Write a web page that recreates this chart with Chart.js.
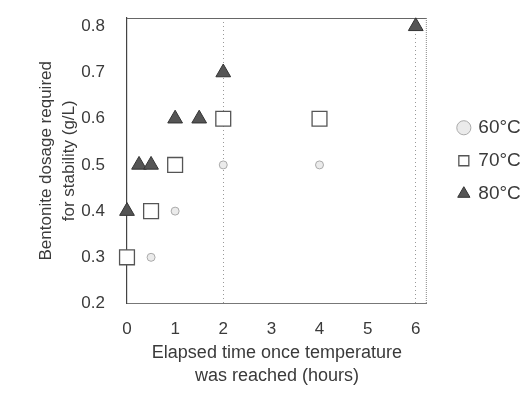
<!DOCTYPE html>
<html>
<head>
<meta charset="utf-8">
<script src="https://cdn.jsdelivr.net/npm/chart.js@4"></script>
<style>
  html, body { margin: 0; padding: 0; background: #fff; }
  #wrap { width: 521px; height: 394px; }
</style>
</head>
<body>
<div id="wrap"><canvas id="chart" width="521" height="394"></canvas></div>
<script>
// valeurs
var seriesNames = ['60°C', '70°C', '80°C'];
var hours60 = [0.5, 1, 2, 4];
var dose60 = [0.3, 0.4, 0.5, 0.5];
var hours70 = [0, 0.5, 1, 2, 4];
var dose70 = [0.3, 0.4, 0.5, 0.6, 0.6];
var hours80 = [0, 0.25, 0.5, 1, 1.5, 2, 6];
var dose80 = [0.4, 0.5, 0.5, 0.6, 0.6, 0.7, 0.8];
var xTicks = [0, 1, 2, 3, 4, 5, 6];
var yTicks = [0.2, 0.3, 0.4, 0.5, 0.6, 0.7, 0.8];
var xGridAt = [2, 6];

var FONT = "'Liberation Sans', Arial, sans-serif";
var TXT = '#3a3a3a';

function points(xs, ys) {
    var out = [];
    for (var i = 0; i < xs.length; i++) {
        out.push({x: xs[i], y: ys[i]});
    }
    return out;
}

// cadre haut + droite
var frame = {
    id: 'frame',
    beforeDatasetsDraw: function(chart) {
        var a = chart.chartArea, c = chart.ctx;
        c.save();
        c.strokeStyle = '#666';
        c.lineWidth = 1;
        c.beginPath();
        c.moveTo(a.left, a.top + 0.5);
        c.lineTo(a.right, a.top + 0.5);
        c.stroke();
        c.strokeStyle = '#888';
        c.setLineDash([1, 1]);
        c.beginPath();
        c.moveTo(a.right - 0.5, a.top);
        c.lineTo(a.right - 0.5, a.bottom);
        c.stroke();
        c.restore();
    }
};

new Chart(document.getElementById('chart'), {
    type: 'scatter',
    data: {
        datasets: [
            {
                label: seriesNames[0],
                data: points(hours60, dose60),
                pointStyle: 'circle',
                pointRadius: 4,
                backgroundColor: 'rgba(235,235,235,1)',
                borderColor: '#aaa',
                borderWidth: 1,
                clip: false
            },
            {
                label: seriesNames[1],
                data: points(hours70, dose70),
                pointStyle: 'rect',
                pointRadius: 10.5,
                backgroundColor: '#fff',
                borderColor: '#555',
                borderWidth: 1.3,
                clip: false
            },
            {
                label: seriesNames[2],
                data: points(hours80, dose80),
                pointStyle: 'triangle',
                pointRadius: 8.5,
                backgroundColor: '#555',
                borderColor: '#333',
                borderWidth: 1,
                clip: false
            }
        ]
    },
    options: {
        responsive: false,
        animation: false,
        layout: {padding: {top: 18, right: -6, left: 34, bottom: 6}},
        plugins: {
            tooltip: {enabled: false},
            legend: {
                position: 'right',
                fullSize: false,
                labels: {
                    usePointStyle: true,
                    color: TXT,
                    font: {family: FONT, size: 19},
                    padding: 14,
                    boxWidth: 10,
                    boxHeight: 10
                }
            }
        },
        scales: {
            x: {
                type: 'linear',
                min: 0,
                max: 6.23,
                afterBuildTicks: function(scale) {
                    scale.ticks = xTicks.map(function(v) { return {value: v}; });
                },
                grid: {
                    drawTicks: false,
                    color: function(ctx) {
                        return ctx.tick && xGridAt.indexOf(ctx.tick.value) >= 0 ? '#999' : 'rgba(0,0,0,0)';
                    },
                    lineWidth: 1
                },
                border: {display: true, color: '#777', width: 1, dash: [1, 3]},
                ticks: {color: TXT, font: {family: FONT, size: 17}, padding: 16},
                title: {
                    display: true,
                    text: ['Elapsed time once temperature', 'was reached (hours)'],
                    color: TXT,
                    font: {family: FONT, size: 18, lineHeight: 1.28},
                    padding: {top: -14, bottom: 0}
                }
            },
            y: {
                min: 0.2,
                max: 0.818,
                afterFit: function(scale) { scale.width = 93; },
                afterBuildTicks: function(scale) {
                    scale.ticks = yTicks.map(function(v) { return {value: v}; });
                },
                ticks: {
                    color: TXT,
                    font: {family: FONT, size: 17},
                    padding: 4,
                    callback: function(v) { return v.toFixed(1); }
                },
                // pas de traits de graduation, mais l'ecart reste
                grid: {display: false, drawTicks: true, tickLength: 18},
                border: {display: true, color: '#444', width: 1.2},
                title: {
                    display: true,
                    text: ['Bentonite dosage required', 'for stability (g/L)'],
                    color: TXT,
                    font: {family: FONT, size: 17, lineHeight: 1.4},
                    padding: {top: 0, bottom: 0}
                }
            },
            pad: {
                // marge invisible entre le cadre et la legende
                position: 'right',
                display: true,
                afterFit: function(scale) { scale.width = 18; },
                ticks: {display: false, padding: 0},
                grid: {display: false},
                border: {display: false}
            }
        }
    },
    plugins: [frame]
});
</script>
</body>
</html>
